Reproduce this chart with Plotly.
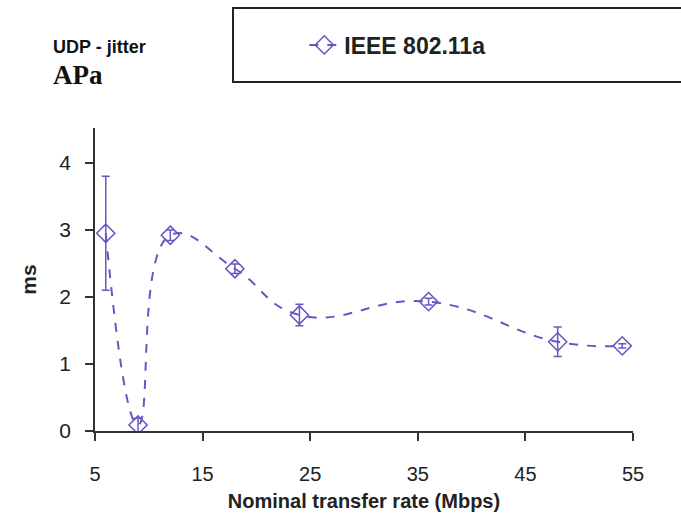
import plotly.graph_objects as go

rates = [6, 9, 12, 18, 24, 36, 48, 54]
jitter_ms = [2.95, 0.09, 2.92, 2.42, 1.73, 1.93, 1.33, 1.27]
jitter_err = [0.85, 0.10, 0.08, 0.07, 0.16, 0.05, 0.22, 0.03]
x_ticks = [5, 15, 25, 35, 45, 55]
y_ticks = [0, 1, 2, 3, 4]
series_name = "IEEE 802.11a"

color = "#6a55c2"
sans = "Liberation Sans, Arial, sans-serif"

fig = go.Figure()
fig.add_trace(go.Scatter(
    x=rates, y=jitter_ms, name=series_name, mode="lines+markers",
    line=dict(color=color, width=2, dash="dash", shape="spline", smoothing=1.3),
    marker=dict(symbol="diamond-open", size=14, color=color, line=dict(width=1.5, color=color)),
    error_y=dict(type="data", array=jitter_err, visible=True, color=color, thickness=1.5, width=4),
))

fig.update_layout(
    width=681, height=524,
    margin=dict(l=95, r=48, t=128, b=93, autoexpand=False),
    paper_bgcolor="white", plot_bgcolor="white",
    font=dict(family=sans, color="#222", size=19),
    showlegend=True,
    legend=dict(x=0.389, y=1.274, xanchor="left", yanchor="middle",
                bgcolor="rgba(0,0,0,0)", borderwidth=0,
                font=dict(family=sans, size=23, color="#222", weight="bold")),
    xaxis=dict(range=[5, 55], tickvals=x_ticks, showgrid=False, zeroline=False,
               showline=True, linecolor="#333", linewidth=1.5,
               ticks="outside", ticklen=8, tickcolor="#333", tickwidth=1.5,
               ticklabelstandoff=16, tickfont=dict(size=20),
               title=dict(text="Nominal transfer rate (Mbps)", standoff=10,
                          font=dict(size=20, weight="bold"))),
    yaxis=dict(range=[0, 4.52], tickvals=y_ticks, showgrid=False, zeroline=False,
               showline=True, linecolor="#333", linewidth=1.5,
               ticks="outside", ticklen=8, tickcolor="#333", tickwidth=1.5,
               ticklabelstandoff=10, tickfont=dict(size=21),
               title=dict(text="ms", standoff=17, font=dict(size=21, weight="bold"))),
    shapes=[dict(type="rect", xref="paper", yref="paper",
                 x0=0.2565, x1=1.1, y0=1.152, y1=1.396,
                 line=dict(color="#222", width=2), fillcolor="rgba(0,0,0,0)")],
    annotations=[
        dict(text="UDP - jitter", xref="paper", yref="paper", x=-0.0815, y=1.267,
             xanchor="left", yanchor="middle", showarrow=False,
             font=dict(family=sans, size=18, weight="bold", color="#111")),
        dict(text="APa", xref="paper", yref="paper", x=-0.0815, y=1.175,
             xanchor="left", yanchor="middle", showarrow=False,
             font=dict(family="Liberation Serif, Times New Roman, serif", size=27,
                       weight="bold", color="#111")),
    ],
)

fig.write_html("out.html", config={"displayModeBar": False},
               post_script="document.body.style.margin='0';document.body.style.overflow='hidden';")
